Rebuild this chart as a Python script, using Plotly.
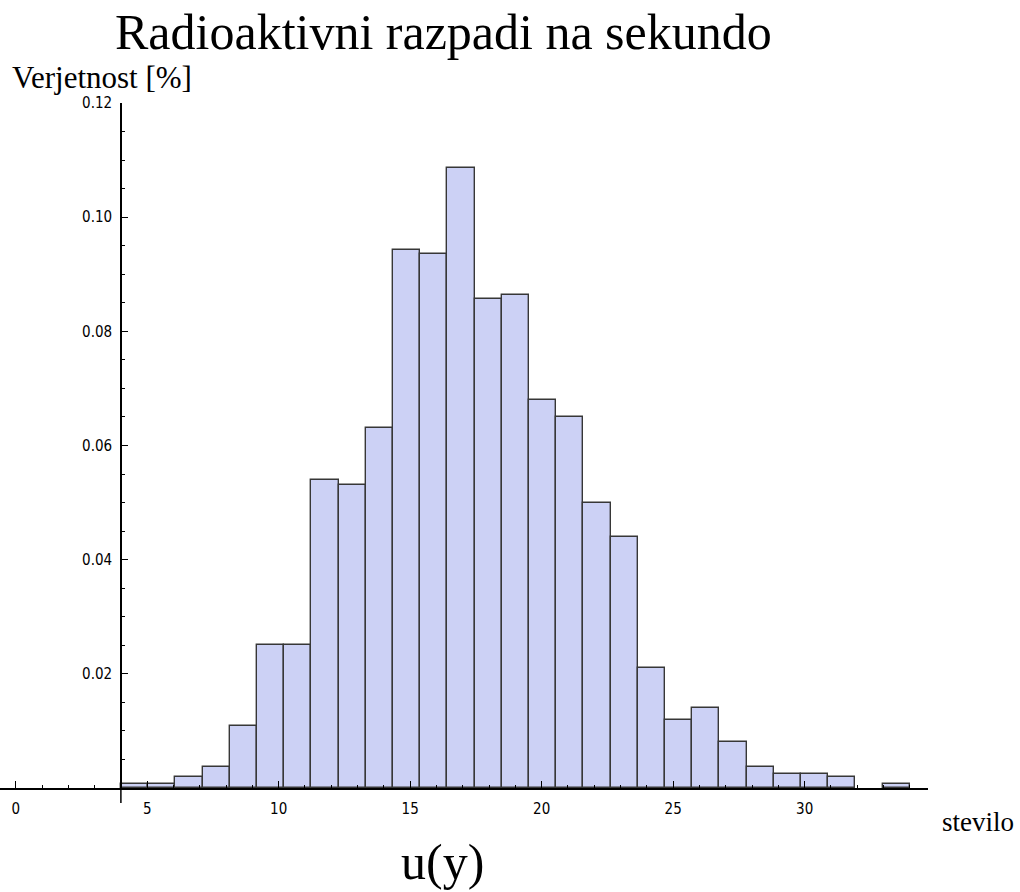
import plotly.graph_objects as go

# ---- data ----
bin_start = 4.0
bin_end = 34.0
heights = [0.0007, 0.0007, 0.0019, 0.0037, 0.0109, 0.025, 0.025, 0.054, 0.053, 0.063,
           0.0943, 0.0936, 0.1086, 0.0856, 0.0863, 0.068, 0.065, 0.050, 0.044, 0.021,
           0.012, 0.014, 0.008, 0.0037, 0.0025, 0.0025, 0.0019, None, 0.0007]
x_ticks = [0, 5, 10, 15, 20, 25, 30]
y_ticks = [0.02, 0.04, 0.06, 0.08, 0.10, 0.12]
y_tick_text = ["0.02", "0.04", "0.06", "0.08", "0.10", "0.12"]

title_text = "Radioaktivni razpadi na sekundo"
ylabel_text = "Verjetnost [%]"
xlabel_text = "stevilo"
bottom_text = "u(y)"

n = len(heights)
width = (bin_end - bin_start) / n
centers = [bin_start + width * (i + 0.5) for i in range(n)]

W, H = 1020, 892
ml, mr, mt, mb = 0, 92, 103, 104
plot_w = W - ml - mr
plot_h = H - mt - mb
x_range = [-0.597, 34.69]
ypos = (bin_start - x_range[0]) / (x_range[1] - x_range[0])

tick_font = dict(family="DejaVu Sans Condensed, Liberation Sans Narrow, sans-serif",
                 size=15, color="black")
serif = "Liberation Serif, Times New Roman, serif"

fig = go.Figure()
fig.add_trace(go.Bar(
    x=centers, y=heights, width=width,
    marker=dict(color="rgb(204,209,245)", line=dict(color="rgb(55,55,55)", width=1.4)),
    showlegend=False,
))

fig.update_layout(
    width=W, height=H,
    margin=dict(l=ml, r=mr, t=mt, b=mb, pad=0, autoexpand=False),
    paper_bgcolor="white", plot_bgcolor="white",
    bargap=0,
    xaxis=dict(
        range=x_range, showgrid=False, zeroline=False, automargin=False,
        showline=True, linecolor="black", linewidth=1.5,
        tickvals=x_ticks, ticks="inside", ticklen=7, tickwidth=1.2, tickcolor="black",
        minor=dict(dtick=1, tick0=0, ticks="inside", ticklen=3, tickwidth=1, tickcolor="black"),
        tickfont=tick_font, ticklabelstandoff=6,
    ),
    yaxis=dict(
        range=[0, 0.12], showgrid=False, zeroline=False, automargin=False,
        anchor="free", position=ypos,
        showline=True, linecolor="black", linewidth=1.5,
        tickvals=y_ticks, ticktext=y_tick_text,
        ticks="inside", ticklen=6, tickwidth=1.2, tickcolor="black",
        minor=dict(dtick=0.005, tick0=0, ticks="inside", ticklen=3, tickwidth=1, tickcolor="black"),
        tickfont=tick_font, ticklabelstandoff=5,
    ),
)

# y-axis line extends slightly below the x axis
fig.add_shape(type="line", xref="paper", yref="paper",
              x0=ypos, x1=ypos, y0=0, y1=-15 / plot_h,
              line=dict(color="black", width=1.5))

def px_to_paper_y(p):
    return (H - mb - p) / plot_h

def px_to_paper_x(p):
    return (p - ml) / plot_w

fig.add_annotation(text=title_text, xref="paper", yref="paper",
                   x=px_to_paper_x(443), y=px_to_paper_y(32), xanchor="center", yanchor="middle",
                   showarrow=False, font=dict(family=serif, size=50, color="black"))
fig.add_annotation(text=ylabel_text, xref="paper", yref="paper",
                   x=px_to_paper_x(102), y=px_to_paper_y(77), xanchor="center", yanchor="middle",
                   showarrow=False, font=dict(family=serif, size=31, color="black"))
fig.add_annotation(text=xlabel_text, xref="paper", yref="paper",
                   x=px_to_paper_x(978), y=px_to_paper_y(822), xanchor="center", yanchor="middle",
                   showarrow=False, font=dict(family=serif, size=27, color="black"))
fig.add_annotation(text=bottom_text, xref="paper", yref="paper",
                   x=px_to_paper_x(442), y=px_to_paper_y(862), xanchor="center", yanchor="middle",
                   showarrow=False, font=dict(family=serif, size=50, color="black"))

fig.write_html("out.html", config={"displayModeBar": False},
               post_script="document.body.style.margin='0';")
